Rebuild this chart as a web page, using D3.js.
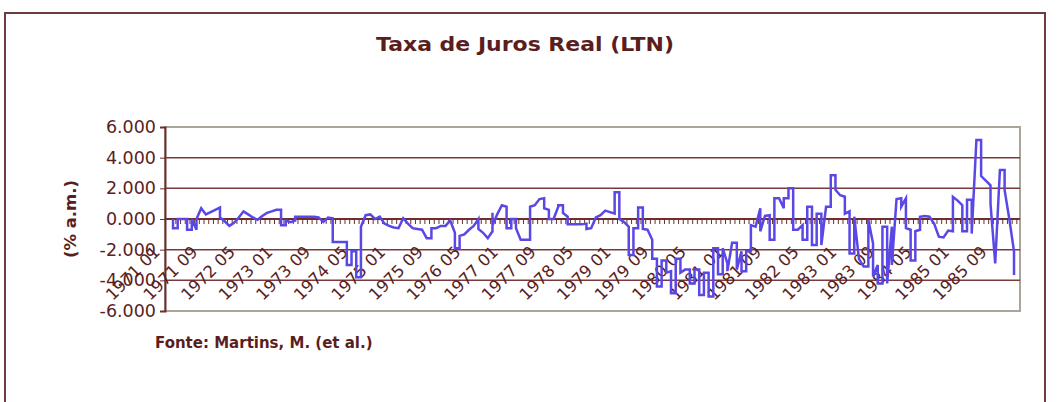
<!doctype html>
<html>
<head>
<meta charset="utf-8">
<script src="https://d3js.org/d3.v7.min.js"></script>
<style>
    body { margin: 0; background: #fff; }
    text { font-family: "DejaVu Sans", Verdana, sans-serif; fill: #5a1e1e; }
</style>
</head>
<body>
<svg id="chart" width="1058" height="402"></svg>

<script>

    // meses 1971 01 .. 1985 12
    var anos = d3.range(1971, 1986);
    var meses = [];
    anos.forEach(function (a) {
        for (var m = 1; m <= 12; m++) meses.push(a + " " + (m < 10 ? "0" + m : m));
    });

    // taxa real mensal (% a.m.); meses com mais de um valor ficam no mesmo x
    var taxa = [
        [0, -0.6], [-0.6, 0], 0, [0, -0.7], [-0.7, 0], [-0.7, 0], 0.7, 0.3, 0.45, 0.6,
        [0.75, 0.1], -0.15, -0.45, -0.25, 0.1, 0.5, 0.3, 0.1, -0.05, 0.2,
        0.4, 0.5, 0.6, [0.6, -0.4], [-0.4, -0.1], -0.2, [-0.1, 0.15], 0.15, 0.15, 0.15,
        0.15, 0.1, -0.2, 0.1, [0.05, -1.5], -1.5, -1.5, [-1.5, -3.0], [-3.0, -2.1], [-2.1, -3.8],
        [-3.8, -2.0, -0.5], 0.25, 0.3, 0.0, 0.15, -0.3, -0.45, -0.55, -0.6, 0.05,
        -0.3, -0.6, -0.65, -0.7, -1.25, [-1.25, -0.6], -0.6, -0.45, -0.45, -0.1,
        [-0.9, -1.9], [-1.9, -1.1], -1.0, -0.7, -0.45, [0.0, -0.65], -0.9, -1.25, [-0.8, 0.4, -0.4], 0.3,
        0.9, [0.8, -0.6], [-0.6, 0.0], [0.0, -0.6], -1.35, -1.35, [-1.35, 0.8], 0.9, 1.3, [1.35, 0.7],
        [0.6, 0.0], 0.0, [0.8, 0.9], [0.9, 0.4], [0.15, -0.35], -0.35, -0.35, -0.35, [-0.3, -0.65], -0.6,
        0.1, 0.25, 0.55, 0.45, [0.35, 1.75], [1.75, 0.0], -0.2, [-0.5, -2.35], [-2.35, -0.6], [-0.6, 0.75],
        [0.75, -0.65], -0.7, [-1.35, -2.6], [-2.6, -4.4], [-4.4, -2.7], [-2.7, -3.5], [-3.4, -4.85], [-4.85, -2.6], [-2.6, -3.5], -3.3,
        [-3.3, -4.2], [-4.2, -3.3], [-3.3, -4.95], [-4.95, -3.5], [-3.5, -5.05], [-5.05, -1.9], [-1.9, -3.6], [-3.6, -1.9], [-2.9, -3.4], -1.55,
        [-1.55, -3.3], [-2.1, -3.4], [-3.4, -2.1], [-2.1, -0.4], -0.5, [0.7, -0.8], 0.2, [0.25, -1.35], [-1.35, 0.4, 1.35], 1.35,
        [0.7, 1.35], [1.35, 2.0], [2.0, -0.7], -0.7, [-0.4, -1.35], [-1.35, 0.8], [0.8, -1.7], [-1.7, 0.35], [0.35, -1.7], 0.8,
        [0.8, 2.85], [2.85, 1.9], 1.55, [1.45, 0.35], [0.5, -2.25], [-2.25, 0.15], -2.6, -3.1, [-3.1, -0.05], [-1.6, -3.75],
        [-3.0, -4.2], [-4.2, -0.5], [-0.5, -4.2], [-0.5, -3.0], 1.3, [1.35, 0.8], [1.35, -0.6], [-0.7, -2.7], [-2.7, -0.8], [-0.7, 0.15],
        0.2, 0.15, -0.3, -1.15, -1.2, -0.75, [-0.8, 1.45], 1.2, [0.9, -0.8], [-0.8, 1.25],
        [1.25, -0.95], [5.15, 5.15], [5.15, 2.8], 2.5, [2.2, 1.0], -2.9, 3.2, [3.2, 1.9], 0.0, [-2.1, -3.65]
    ];

    var yTicks = [-6, -4, -2, 0, 2, 4, 6];
    var rotuloCada = 8;

    var titulo = "Taxa de Juros Real (LTN)";
    var tituloY = "(% a.m.)";
    var fonte = "Fonte: Martins, M. (et al.)";

    var plot = { left: 165, right: 1020, top: 127, bottom: 311 };

    var svg = d3.select("#chart");

    // moldura externa
    svg.append("rect")
        .attr("x", 5).attr("y", 13)
        .attr("width", 1040).attr("height", 420)
        .attr("fill", "none")
        .attr("stroke", "#6e3c3c")
        .attr("stroke-width", 2);

    svg.append("text")
        .attr("x", 525).attr("y", 51)
        .attr("text-anchor", "middle")
        .attr("textLength", 298)
        .attr("lengthAdjust", "spacingAndGlyphs")
        .style("font-size", "20px")
        .style("font-weight", "bold")
        .text(titulo);

    var x = d3.scalePoint()
        .domain(meses)
        .range([173, 1014]);

    var y = d3.scaleLinear()
        .domain([-6, 6])
        .range([plot.bottom, plot.top]);

    // borda cinza da area de plotagem
    svg.append("rect")
        .attr("x", plot.left).attr("y", plot.top)
        .attr("width", plot.right - plot.left)
        .attr("height", plot.bottom - plot.top)
        .attr("fill", "none")
        .attr("stroke", "#aaa49a")
        .attr("stroke-width", 2);

    // grade
    svg.append("g")
        .selectAll("line")
        .data(yTicks.filter(function (d) { return d !== -6 && d !== 6 && d !== 0; }))
        .enter().append("line")
        .attr("x1", plot.left).attr("x2", plot.right)
        .attr("y1", function (d) { return y(d); })
        .attr("y2", function (d) { return y(d); })
        .attr("stroke", "#7b3a3a")
        .attr("stroke-width", 1.5);

    // eixo y
    var yAxis = d3.axisLeft(y)
        .tickValues(yTicks)
        .tickSize(5)
        .tickFormat(function (d) { return d3.format(".3f")(d).replace("\u2212", "-"); });

    var gy = svg.append("g")
        .attr("transform", "translate(" + plot.left + ",0)")
        .call(yAxis);
    gy.select(".domain").attr("stroke", "#6e2e2e").attr("stroke-width", 2);
    gy.selectAll(".tick line").attr("stroke", "#6e2e2e");
    gy.selectAll(".tick text")
        .attr("x", -9)
        .style("font-size", "17.5px")
        .style("font-family", "DejaVu Sans")
        .attr("fill", "#5a1e1e");

    // eixo x cruzando em zero
    var passo = x.step();
    var xAxis = d3.axisBottom(x)
        .tickSize(5)
        .tickFormat("");

    var gx = svg.append("g")
        .attr("transform", "translate(0," + y(0) + ")")
        .call(xAxis);
    gx.select(".domain").attr("d", "M" + plot.left + ",0H" + plot.right)
        .attr("stroke", "#6e2e2e").attr("stroke-width", 2);
    gx.selectAll(".tick line")
        .attr("transform", "translate(" + (passo / 2) + ",0)")
        .attr("stroke", "#6e2e2e");

    // rotulos das datas, a cada 8 meses
    svg.append("g")
        .selectAll("text")
        .data(meses.filter(function (d, i) { return i % rotuloCada === 0; }))
        .enter().append("text")
        .attr("text-anchor", "end")
        .attr("transform", function (d) {
            return "translate(" + (x(d) - 12) + "," + (y(0) + 34) + ") rotate(-45)";
        })
        .style("font-size", "16.5px")
        .text(function (d) { return d; });

    // serie
    var pontos = [];
    taxa.forEach(function (v, i) {
        [].concat(v).forEach(function (val) {
            pontos.push({ mes: meses[i], valor: val });
        });
    });

    var linha = d3.line()
        .x(function (d) { return x(d.mes); })
        .y(function (d) { return y(d.valor); });

    svg.append("path")
        .datum(pontos)
        .attr("d", linha)
        .attr("fill", "none")
        .attr("stroke", "#5a48e6")
        .attr("stroke-width", 2.5)
        .attr("stroke-linejoin", "miter");

    svg.append("text")
        .attr("transform", "translate(76," + y(0) + ") rotate(-90)")
        .attr("text-anchor", "middle")
        .style("font-size", "16.5px")
        .style("font-weight", "bold")
        .text(tituloY);

    svg.append("text")
        .attr("x", 155).attr("y", 348)
        .style("font-size", "15px")
        .style("font-weight", "bold")
        .text(fonte);

</script>
</body>
</html>
